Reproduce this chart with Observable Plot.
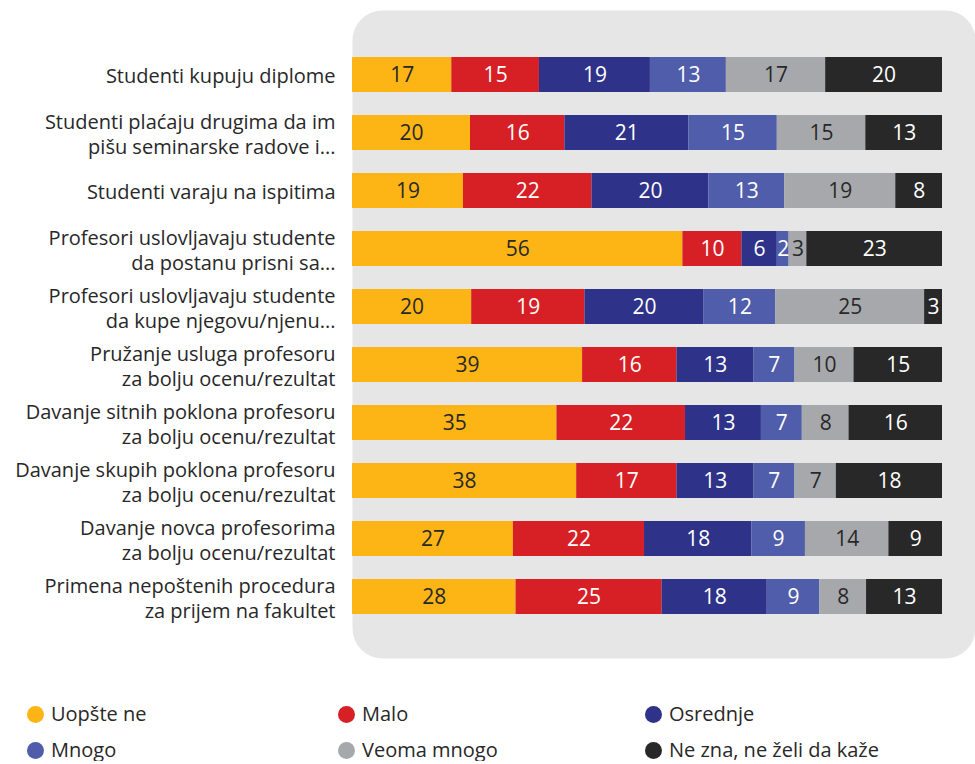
<!DOCTYPE html>
<html><head><meta charset="utf-8">
<script src="https://cdn.jsdelivr.net/npm/d3@7"></script>
<script src="https://cdn.jsdelivr.net/npm/@observablehq/plot@0.6"></script>
<style>
body{margin:0;background:#fff;font-family:"Open Sans",Lato,sans-serif;color:#282828;}
#legend{display:grid;grid-template-columns:311px 307px 330px;margin-left:27px;row-gap:14px;margin-top:33px;font-size:20px;line-height:22px;}
.item{display:flex;align-items:center;gap:7px;}
.dot{width:17px;height:17px;border-radius:50%;display:inline-block;}
</style></head><body>
<div id="chart"></div>
<div id="legend"></div>
<script>
const questions = [
  "Studenti kupuju diplome",
  "Studenti plaćaju drugima da im\npišu seminarske radove i...",
  "Studenti varaju na ispitima",
  "Profesori uslovljavaju studente\nda postanu prisni sa...",
  "Profesori uslovljavaju studente\nda kupe njegovu/njenu...",
  "Pružanje usluga profesoru\nza bolju ocenu/rezultat",
  "Davanje sitnih poklona profesoru\nza bolju ocenu/rezultat",
  "Davanje skupih poklona profesoru\nza bolju ocenu/rezultat",
  "Davanje novca profesorima\nza bolju ocenu/rezultat",
  "Primena nepoštenih procedura\nza prijem na fakultet"
];
const categories = ["Uopšte ne","Malo","Osrednje","Mnogo","Veoma mnogo","Ne zna, ne želi da kaže"];
const colors = ["#FDB515","#D71F26","#2E3389","#4F5DAA","#A7A8AC","#282828"];
const textColors = ["#282828","#ffffff","#ffffff","#ffffff","#282828","#ffffff"];
const uopsteNe   = [17,20,19,56,20,39,35,38,27,28];
const malo       = [15,16,22,10,19,16,22,17,22,25];
const osrednje   = [19,21,20, 6,20,13,13,13,18,18];
const mnogo      = [13,15,13, 2,12, 7, 7, 7, 9, 9];
const veomaMnogo = [17,15,19, 3,25,10, 8, 7,14, 8];
const neZna      = [20,13, 8,23, 3,15,16,18, 9,13];
const series = [uopsteNe, malo, osrednje, mnogo, veomaMnogo, neZna];

const data = [];
questions.forEach((q,i)=>series.forEach((s,j)=>data.push({q, cat:categories[j], value:s[i], tc:textColors[j]})));

const stackOpts = {x:"value", y:"q", z:"cat", order:categories, offset:"normalize"};
const chart = Plot.plot({
  width:975, height:670,
  marginLeft:352, marginRight:0, marginTop:10, marginBottom:12,
  style:{fontFamily:"'Open Sans', Lato, sans-serif", color:"#282828"},
  x:{range:[352,942], axis:null},
  y:{domain:questions, range:[45,625], paddingInner:0.4, paddingOuter:0.2, label:null},
  color:{domain:categories, range:colors},
  marks:[
    Plot.frame({fill:"#E6E6E6", stroke:null, rx:30}),
    Plot.barX(data, Plot.stackX({...stackOpts, fill:"cat"})),
    Plot.text(data, Plot.stackX({...stackOpts, text:"value", fill:"tc", fontSize:21})),
    Plot.axisY({tickSize:0, tickPadding:17, fontSize:20, lineHeight:1.25, fill:"#282828", label:null})
  ]
});
document.getElementById("chart").appendChild(chart);
const lg = document.getElementById("legend");
categories.forEach((c,i)=>{
  const d=document.createElement("div");d.className="item";
  d.innerHTML=`<span class="dot" style="background:${colors[i]}"></span><span>${c}</span>`;
  lg.appendChild(d);
});
</script>
</body></html>
